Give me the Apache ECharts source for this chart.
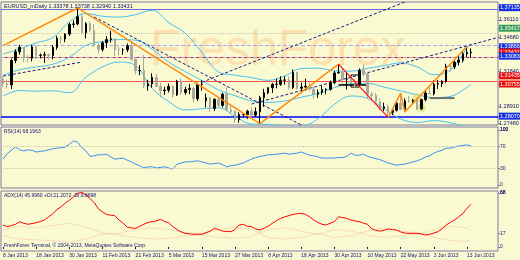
<!DOCTYPE html>
<html><head><meta charset="utf-8">
<script src="https://cdn.jsdelivr.net/npm/echarts@6/dist/echarts.min.js"></script>
<style>html,body{margin:0;padding:0;background:#fafad2}#c{width:520px;height:260px}</style>
</head><body><div id="c"></div><script>
// ---- categories (trading days) ----
const janDays=[8,9,10,11,14,15,16,17,18,21,22,23,24,25,28,29,30,31];
const febDays=[1,4,5,6,7,8,11,12,13,14,15,18,19,20,21,22,25,26,27,28];
const marDays=[1,4,5,6,7,8,11,12,13,14,15,18,19,20,21,22,25,26,27,28,29];
const aprDays=[1,2,3,4,5,8,9,10,11,12,15,16,17,18,19,22,23,24,25,26,29,30];
const mayDays=[1,2,3,6,7,8,9,10,13,14,15,16,17,20,21,22,23,24,27,28,29,30,31];
const junDays=[3,4,5,6,7,10,11,12,13,14];
const emptySlots=6;

// ---- OHLC ----
const open=[1.3116,1.3078,1.3069,1.3273,1.3345,1.3382,1.3297,1.3291,1.3386,1.3315,1.3317,1.3320,1.3314,1.3381,1.3458,1.3452,1.3493,1.3574,1.3578,1.3638,
1.3504,1.3580,1.3525,1.3400,1.3365,1.3420,1.3447,1.3454,1.3363,1.3362,1.3362,1.3395,1.3282,1.3187,1.3189,1.3060,1.3076,1.3131,1.3055,1.3020,
1.3025,1.3056,1.2985,1.3098,1.3004,1.3030,1.3039,1.2953,1.3071,1.2935,1.2960,1.2871,1.2948,1.2897,1.2990,1.2860,1.2846,1.2776,1.2820,1.2820,
1.2848,1.2816,1.2844,1.2962,1.3002,1.3045,1.3073,1.3074,1.3108,1.3110,1.3047,1.3174,1.3040,1.3050,1.3057,1.3032,1.2990,1.3005,1.3030,1.3031,
1.3087,1.3168,1.3173,1.3117,1.3118,1.3090,1.3075,1.3190,1.3160,1.2990,1.2980,1.2928,1.2872,1.2885,1.2837,1.2857,1.2915,1.2864,1.2935,1.2932,
1.2940,1.2868,1.2945,1.3000,1.2995,1.3075,1.3080,1.3097,1.3222,1.3219,1.3258,1.3274,1.3327,1.3338];
const high=[1.3138,1.3112,1.3288,1.3366,1.3403,1.3383,1.3317,1.3402,1.3403,1.3330,1.3345,1.3331,1.3403,1.3478,1.3478,1.3499,1.3588,1.3607,1.3711,1.3664,
1.3593,1.3597,1.3576,1.3415,1.3433,1.3476,1.3520,1.3459,1.3388,1.3375,1.3415,1.3436,1.3290,1.3233,1.3320,1.3110,1.3165,1.3160,1.3085,1.3052,
1.3080,1.3061,1.3110,1.3125,1.3053,1.3075,1.3050,1.3085,1.3108,1.2996,1.2968,1.2955,1.2965,1.3003,1.3050,1.2895,1.2858,1.2840,1.2832,1.2860,
1.2880,1.2880,1.2976,1.3035,1.3048,1.3085,1.3120,1.3140,1.3140,1.3140,1.3198,1.3175,1.3088,1.3120,1.3090,1.3048,1.3030,1.3060,1.3040,1.3105,
1.3185,1.3242,1.3200,1.3165,1.3145,1.3115,1.3205,1.3242,1.3165,1.3010,1.3000,1.2955,1.2920,1.2905,1.2870,1.2928,1.3000,1.2955,1.2975,1.2950,
1.2960,1.2952,1.3020,1.3060,1.3108,1.3110,1.3108,1.3245,1.3250,1.3270,1.3318,1.3350,1.3389,1.3374];
const low=[1.3054,1.3036,1.3034,1.3250,1.3321,1.3260,1.3255,1.3265,1.3284,1.3289,1.3252,1.3282,1.3282,1.3362,1.3412,1.3425,1.3477,1.3545,1.3566,1.3493,
1.3455,1.3512,1.3387,1.3329,1.3347,1.3378,1.3422,1.3310,1.3315,1.3320,1.3342,1.3270,1.3155,1.3150,1.3040,1.3020,1.3045,1.3050,1.2965,1.2985,
1.3005,1.2960,1.2976,1.2985,1.2985,1.2990,1.2922,1.2935,1.3020,1.2880,1.2843,1.2850,1.2880,1.2880,1.2845,1.2825,1.2750,1.2752,1.2800,1.2785,
1.2795,1.2800,1.2744,1.2885,1.2990,1.3002,1.3040,1.3060,1.3070,1.3030,1.3035,1.3030,1.3005,1.3020,1.3020,1.2952,1.2960,1.2985,1.2990,1.3020,
1.3075,1.3160,1.3075,1.3030,1.3075,1.3045,1.3070,1.3140,1.2955,1.2945,1.2925,1.2855,1.2850,1.2796,1.2815,1.2845,1.2858,1.2841,1.2918,1.2905,
1.2856,1.2860,1.2930,1.2985,1.2980,1.3035,1.3050,1.3085,1.3180,1.3200,1.3230,1.3255,1.3300,1.3294];
const close=[1.3078,1.3069,1.3273,1.3345,1.3382,1.3297,1.3291,1.3386,1.3315,1.3317,1.3320,1.3314,1.3381,1.3458,1.3452,1.3493,1.3574,1.3578,1.3638,1.3504,
1.3580,1.3525,1.3400,1.3365,1.3420,1.3447,1.3454,1.3363,1.3362,1.3362,1.3395,1.3282,1.3187,1.3189,1.3060,1.3076,1.3131,1.3055,1.3020,1.3025,
1.3056,1.2985,1.3098,1.3004,1.3030,1.3039,1.2953,1.3071,1.3075,1.2960,1.2871,1.2948,1.2897,1.2990,1.2860,1.2846,1.2776,1.2820,1.2820,1.2848,
1.2816,1.2844,1.2962,1.3002,1.3045,1.3073,1.3074,1.3108,1.3110,1.3047,1.3174,1.3040,1.3050,1.3057,1.3032,1.2990,1.3005,1.3030,1.3031,1.3087,
1.3168,1.3173,1.3117,1.3118,1.3090,1.3075,1.3190,1.3160,1.2990,1.2980,1.2928,1.2872,1.2885,1.2837,1.2857,1.2915,1.2864,1.2935,1.2932,1.2940,
1.2868,1.2945,1.3000,1.2995,1.3075,1.3080,1.3097,1.3222,1.3219,1.3258,1.3274,1.3327,1.3338,1.3343];

// ---- Bollinger bands (read at sampled bars) ----
const bbIdx=[0,4,8,12,16,20,24,28,32,36,40,44,48,52,56,60,64,68,72,76,80,84,88,92,96,100,104,108,112,113];
const bbUpper=[1.3326,1.3369,1.3420,1.3463,1.3595,1.3664,1.3642,1.3635,1.3656,1.3692,1.3589,1.3499,1.3341,1.3177,1.3150,1.3129,1.3106,1.3143,1.3205,1.3208,1.3186,1.3183,1.3207,1.3229,1.3252,1.3218,1.3154,1.3192,1.3376,1.3414];
const bbMiddle=[1.3150,1.3195,1.3218,1.3241,1.3299,1.3398,1.3430,1.3447,1.3442,1.3366,1.3259,1.3179,1.3105,1.3027,1.2978,1.2935,1.2922,1.2933,1.2965,1.2996,1.3046,1.3079,1.3081,1.3049,1.3018,1.2986,1.2962,1.2972,1.3048,1.3074];
const bbLower=[1.2974,1.3021,1.3016,1.3019,1.3003,1.3132,1.3218,1.3259,1.3228,1.3040,1.2929,1.2859,1.2869,1.2877,1.2806,1.2741,1.2738,1.2723,1.2725,1.2784,1.2906,1.2975,1.2955,1.2869,1.2784,1.2754,1.2770,1.2752,1.2720,1.2734];

// ---- drawn objects: [barIndex, price] ----
const zigOrangeA=[[0,1.3397],[18,1.3711],[62,1.2744],[81,1.3242]];
const zigRed=[[81,1.3242],[93,1.2796]];
const zigOrangeB=[[93,1.2796],[96,1.3000],[97,1.2841],[112,1.3389]];
const trendD1=[[22,1.3636],[72,1.2733]];
const trendD2=[[48,1.3090],[97,1.3761]];
const trendD3=[[60,1.2908],[119,1.3460]];
const trendD4=[[0,1.3142],[19,1.3259]];
const segBlack=[[81,1.3067],[88,1.3067]];
const segGrey=[[103,1.2958],[109,1.2958]];
const boxCorners=[[84,1.3151],[86,1.3050]];
const circleMarks=[[100,1.2958],[101,1.2875]];

// ---- horizontal levels & price-axis labels ----
const levelPrices=[1.37135,1.35417,1.33866,1.33431,1.33083,1.31435,1.30755,1.28070];
const priceTickLabels=[1.37135,1.36110,1.35417,1.34680,1.33866,1.33431,1.33083,1.31840,1.31435,1.30755,1.28910,1.28070,1.27480];
const rsiTicks=[0,30,70,100];
const adxTicks=[0,17,68];

// ---- RSI / ADX ----
const rsi=[47,57,63,69,64,62,64,63,60,61,62,64,66,67,68,69,74,80,78,68,
62,52,53,55,55,56,51,47,48,49,45,42,38,35,31,33,33,31,32,33,
31,29,38,40,42,42,43,44,42,40,38,39,40,37,33,35,36,38,40,44,
47,50,52,53,55,55,56,57,58,56,57,58,60,57,54,53,51,49,49,49,
49,50,50,52,58,54,54,56,52,50,48,46,43,40,38,36,37,38,40,42,
44,47,51,53,58,61,63,67,67,69,71,72,73,71];
const adx=[27.7,25.6,27,28.6,31.9,29.8,28.6,29.5,30.6,32,34,38,42,47,50.8,55,59,63,67.6,69,
65.5,61,56,48,44,41,40,39.4,34,30,24.8,24,23.5,26,28.6,31,32,32.7,34.9,32,
30.6,25.6,22,19,17.2,16.5,16,16,16,18,20,23.5,22,20,19.5,19.3,22,27.7,28.6,26,
25.6,22.7,21.4,23.5,26,29.8,33,36,38,39.4,41,42,42.4,41,38,34,31,28.6,27.7,30,
32,38,37,36,34,32.7,32,30,28.6,23,21,20,21,22.7,22,21.4,19,17.5,17.2,17.2,
17.2,16.5,15,16,17.5,19.3,23,27.7,31,34,38,42,48.7,53.8];
const diIdx=[0,4,8,12,16,20,24,28,32,36,40,44,48,52,56,60,64,68,72,76,80,84,88,92,96,100,104,108,112,113];
const plusDI=[22,26,24,27,30,25,18,15,12,10,11,14,15,12,11,13,22,24,20,16,22,20,15,12,14,16,22,26,24,21];
const minusDI=[14,10,9,8,6,10,16,17,22,24,22,18,17,22,25,22,12,10,12,17,12,14,20,24,20,18,12,8,7,10];

// ---- build ----
const categories=[];
[['Jan',janDays],['Feb',febDays],['Mar',marDays],['Apr',aprDays],['May',mayDays],['Jun',junDays]]
  .forEach(([m,d])=>d.forEach(x=>categories.push(x+' '+m+' 2013')));
const nBars=categories.length;
for(let k=0;k<emptySlots;k++) categories.push('');

const candles=close.map((c,i)=>[open[i],c,low[i],high[i]]);
const pair=(idx,vals)=>idx.map((k,j)=>[k,vals[j]]);

const levelStyles=[
 {color:'#6c6cd8',type:'solid',width:1},
 {color:'#c8c8b0',type:'dotted',width:1},
 {color:'#a8a8e8',type:'dashed',width:1},
 {color:'#ff0000',type:'solid',width:1},
 {color:'#a8a8e8',type:'dashed',width:1},
 {color:'#ff0000',type:'solid',width:1},
 {color:'#ff5050',type:'solid',width:1},
 {color:'#0000ff',type:'solid',width:1.5}];
const boxKinds=['blue','green','blue','red','blue','red','red','blue'];
function kindOf(v){
  for(let i=0;i<levelPrices.length;i++) if(Math.abs(levelPrices[i]-v)<1e-7) return boxKinds[i];
  return 'p';
}

const FONT='Liberation Sans';
const navy='#10106e';
const line=(name,data,color,opts={})=>Object.assign({
  type:'line',name,data,xAxisIndex:0,yAxisIndex:0,symbol:'none',silent:true,
  lineStyle:{color,width:1},z:3},opts);

const baseX=(g)=>({type:'category',gridIndex:g,data:categories,boundaryGap:true,
  axisLine:{show:false},axisTick:{show:false},axisLabel:{show:false},splitLine:{show:false}});
const labelInterval=(i)=>i%8===0 && i<nBars;
// top tick label of an indicator pane, drawn as a transparent level line with an end label
const topMark=(v)=>({yAxis:v,lineStyle:{color:'rgba(0,0,0,0)',width:0},
  label:{show:true,position:'end',distance:2,formatter:String(v),fontSize:5,color:navy,fontFamily:FONT,opacity:1}});

const option={
  animation:false,
  backgroundColor:'#fafad2',
  textStyle:{fontFamily:FONT},
  title:[
    {text:'FreshForex',left:150,top:26,padding:0,z:1,textStyle:{fontSize:50,fontWeight:'normal',fontFamily:FONT,color:'rgba(255,160,80,0.28)'}},
    {text:'EURUSD_mDaily 1.33378 1.33738 1.32940 1.33431',left:4,top:3,padding:0,textStyle:{fontSize:5.5,fontWeight:'normal',color:navy}},
    {text:'RSI(14) 68.1963',left:4,top:129,padding:0,textStyle:{fontSize:5,fontWeight:'normal',color:navy}},
    {text:'ADX(14) 45.9960 +DI:21.2072 -DI:9.8698',left:4,top:193,padding:0,textStyle:{fontSize:5,fontWeight:'normal',color:navy}},
    {text:'FreshForex Terminal, \u00A9 2004-2013, MetaQuotes Software Corp.',left:4,top:243,padding:0,textStyle:{fontSize:5,fontWeight:'normal',color:navy}}
  ],
  grid:[
    {left:1,top:2,width:497,height:123,show:true,borderColor:'#7a7aa2',borderWidth:1,backgroundColor:'transparent',outerBoundsMode:'none'},
    {left:1,top:127,width:497,height:61,show:true,borderColor:'#7a7aa2',borderWidth:1,backgroundColor:'transparent',outerBoundsMode:'none'},
    {left:1,top:191,width:497,height:60,show:true,borderColor:'#7a7aa2',borderWidth:1,backgroundColor:'transparent',outerBoundsMode:'none'}
  ],
  xAxis:[baseX(0),baseX(1),Object.assign(baseX(2),{
    axisTick:{show:true,alignWithLabel:true,interval:labelInterval,length:2,lineStyle:{color:navy}},
    axisLabel:{show:true,interval:labelInterval,align:'left',fontSize:5,color:navy,margin:2}
  })],
  yAxis:[
    {type:'value',gridIndex:0,position:'right',min:1.2733,max:1.3761,scale:true,splitLine:{show:false},
     axisLine:{show:false},axisTick:{show:true,length:2,customValues:priceTickLabels,lineStyle:{color:'#7a7aa2'}},
     axisLabel:{customValues:priceTickLabels,margin:1,fontSize:5.5,color:navy,showMinLabel:true,showMaxLabel:true,
       formatter:v=>'{'+kindOf(v)+'|'+v.toFixed(5)+'}',
       rich:{p:{color:navy,fontSize:5.5},
             blue:{color:'#fff',backgroundColor:'#1430e0',fontSize:5.5,padding:[0.5,1]},
             red:{color:'#fff',backgroundColor:'#e81010',fontSize:5.5,padding:[0.5,1]},
             green:{color:'#fff',backgroundColor:'#3c9c5c',fontSize:5.5,padding:[0.5,1]}}}},
    {type:'value',gridIndex:1,position:'right',min:-5.45,max:105.45,splitLine:{show:false},axisLine:{show:false},
     axisTick:{show:true,length:2,customValues:rsiTicks,lineStyle:{color:'#7a7aa2'}},
     axisLabel:{customValues:rsiTicks,margin:2,fontSize:5,color:navy,showMinLabel:true,showMaxLabel:true}},
    {type:'value',gridIndex:2,position:'right',min:-5.04,max:70.5,splitLine:{show:false},axisLine:{show:false},
     axisTick:{show:true,length:2,customValues:adxTicks,lineStyle:{color:'#7a7aa2'}},
     axisLabel:{customValues:adxTicks,margin:2,fontSize:5,color:navy,showMinLabel:true,showMaxLabel:true}}
  ],
  series:[
    {type:'candlestick',name:'EURUSD',data:candles,xAxisIndex:0,yAxisIndex:0,barWidth:2,silent:true,z:4,
     itemStyle:{color:'#000000',color0:'#a9a9a0',borderColor:'#000000',borderColor0:'#a9a9a0',borderWidth:1},
     markLine:{silent:true,symbol:['none','none'],label:{show:false},z:2,
       data:levelPrices.map((v,i)=>({yAxis:v,lineStyle:levelStyles[i]}))},
     markArea:{silent:true,itemStyle:{color:'rgba(0,0,0,0)',borderColor:'#000000',borderWidth:1},
       data:[[{coord:boxCorners[0]},{coord:boxCorners[1]}]]}},
    {type:'scatter',name:'marks',data:circleMarks,xAxisIndex:0,yAxisIndex:0,symbolSize:9,silent:true,z:3,
     itemStyle:{color:'rgba(215,215,70,0.6)'}},
    line('BB upper',pair(bbIdx,bbUpper),'#48c0f0',{smooth:0.4}),
    line('BB middle',pair(bbIdx,bbMiddle),'#48c0f0',{smooth:0.4}),
    line('BB lower',pair(bbIdx,bbLower),'#48c0f0',{smooth:0.4}),
    line('D1',trendD1,'#1a1a80',{lineStyle:{color:'#1a1a80',width:1,type:[3,2]}}),
    line('D2',trendD2,'#1a1a80',{lineStyle:{color:'#1a1a80',width:1,type:[3,2]}}),
    line('D3',trendD3,'#1a1a80',{lineStyle:{color:'#1a1a80',width:1,type:[3,2]}}),
    line('D4',trendD4,'#1a1a80',{lineStyle:{color:'#1a1a80',width:1,type:[3,2]}}),
    line('segBlack',segBlack,'#000',{lineStyle:{color:'#000000',width:1.5}}),
    line('segGrey',segGrey,'#666',{lineStyle:{color:'#707070',width:2}}),
    line('Zig A',zigOrangeA,'#ff8c10',{lineStyle:{color:'#ff8c10',width:1.5},z:5}),
    line('Zig red',zigRed,'#ff0000',{lineStyle:{color:'#ff1010',width:1.2},z:5}),
    line('Zig B',zigOrangeB,'#ff8c10',{lineStyle:{color:'#ff8c10',width:1.5},z:5}),
    {type:'line',name:'RSI',data:rsi,xAxisIndex:1,yAxisIndex:1,symbol:'none',silent:true,clip:false,
     lineStyle:{color:'#3890f0',width:1},
     markLine:{silent:true,symbol:['none','none'],label:{show:false},
       lineStyle:{color:'#c8c8a8',type:'dotted',width:1},
       data:[{yAxis:70},{yAxis:30},topMark(100)]}},
    {type:'line',name:'+DI',data:pair(diIdx,plusDI),xAxisIndex:2,yAxisIndex:2,symbol:'none',silent:true,
     lineStyle:{color:'rgba(240,170,110,0.35)',width:1}},
    {type:'line',name:'-DI',data:pair(diIdx,minusDI),xAxisIndex:2,yAxisIndex:2,symbol:'none',silent:true,
     lineStyle:{color:'rgba(240,140,140,0.3)',width:1}},
    {type:'line',name:'ADX',data:adx,xAxisIndex:2,yAxisIndex:2,symbol:'none',silent:true,clip:false,
     lineStyle:{color:'#ff0000',width:1},
     markLine:{silent:true,symbol:['none','none'],data:[topMark(68)]}}
  ]
};
const chart=echarts.init(document.getElementById('c'),null,{renderer:'canvas'});
chart.setOption(option);
</script></body></html>
